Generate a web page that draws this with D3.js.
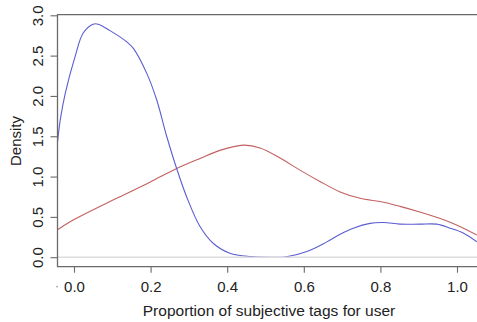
<!DOCTYPE html>
<html>
<head>
<meta charset="utf-8">
<script src="https://cdn.jsdelivr.net/npm/d3@7"></script>
<style>
  html, body { margin: 0; padding: 0; background: #fff; }
  svg { display: block; font-family: "Liberation Sans", Arial, sans-serif; }
</style>
</head>
<body>
<svg id="chart" width="477" height="322"></svg>
<script>
// ---- data ----
const blueX = [-0.043, -0.036, -0.023, 0.003, 0.024, 0.050, 0.063, 0.094, 0.138, 0.155, 0.190, 0.216, 0.242, 0.268, 0.294, 0.329, 0.364, 0.407, 0.46, 0.51, 0.555, 0.608, 0.66, 0.695, 0.729, 0.773, 0.808, 0.851, 0.903, 0.947, 0.982, 1.016, 1.052];
const blueY = [1.43, 1.70, 2.03, 2.49, 2.78, 2.89, 2.89, 2.81, 2.67, 2.59, 2.28, 1.95, 1.50, 1.10, 0.75, 0.38, 0.17, 0.05, 0.008, 0.0, 0.006, 0.07, 0.19, 0.285, 0.36, 0.42, 0.43, 0.41, 0.41, 0.41, 0.36, 0.30, 0.19];
const redX = [-0.043, -0.010, 0.094, 0.12, 0.198, 0.268, 0.329, 0.381, 0.442, 0.486, 0.538, 0.590, 0.642, 0.695, 0.747, 0.799, 0.851, 0.903, 0.956, 0.999, 1.052];
const redY = [0.34, 0.44, 0.69, 0.75, 0.93, 1.10, 1.225, 1.325, 1.39, 1.355, 1.23, 1.08, 0.94, 0.81, 0.73, 0.69, 0.63, 0.56, 0.48, 0.40, 0.275];
const xTicks = [0, 0.2, 0.4, 0.6, 0.8, 1.0];
const yTicks = [0, 0.5, 1.0, 1.5, 2.0, 2.5, 3.0];
const xTitle = "Proportion of subjective tags for user";
const yTitle = "Density";

// ---- layout ----
const svg = d3.select("#chart");
const pLeft = 57.5, pTop = 14.7, pBottom = 266.7, pRight = 480;
const x = d3.scaleLinear().domain([0, 1]).range([74, 457]);
const y = d3.scaleLinear().domain([0, 3]).range([257.2, 15.3]);
const axisCol = "#6a6a6a", textCol = "#222";

svg.append("defs").append("clipPath").attr("id", "clip")
  .append("rect").attr("x", pLeft).attr("y", pTop).attr("width", pRight - pLeft).attr("height", pBottom - pTop);

const plot = svg.append("g").attr("clip-path", "url(#clip)");

const line = d3.line().x(d => x(d[0])).y(d => y(d[1])).curve(d3.curveCatmullRom.alpha(0.5));

plot.append("path").datum(d3.zip(redX, redY))
  .attr("d", line).attr("fill", "none").attr("stroke", "#c46060").attr("stroke-width", 1.1);
plot.append("path").datum(d3.zip(blueX, blueY))
  .attr("d", line).attr("fill", "none").attr("stroke", "#5c5cd2").attr("stroke-width", 1.1);

// zero line
plot.append("line").attr("x1", pLeft).attr("x2", pRight).attr("y1", y(0)).attr("y2", y(0))
  .attr("stroke", "#dcdcdc").attr("stroke-width", 1.6);

// box (right side beyond the view)
svg.append("path")
  .attr("d", `M${pRight},${pTop}H${pLeft}V${pBottom}H${pRight}`)
  .attr("fill", "none").attr("stroke", axisCol).attr("stroke-width", 1.3);

// x axis
const xa = svg.append("g").attr("transform", `translate(0,${pBottom})`)
  .call(d3.axisBottom(x).tickValues(xTicks).tickFormat(d3.format(".1f")).tickSize(6).tickPadding(8.5));
xa.select(".domain").remove();
xa.selectAll("line").attr("stroke", axisCol).attr("stroke-width", 1.1);
xa.selectAll("text").attr("fill", textCol).style("font-size", "15px");

// y axis
const ya = svg.append("g").attr("transform", `translate(${pLeft},0)`)
  .call(d3.axisLeft(y).tickValues(yTicks).tickFormat(d3.format(".1f")).tickSize(7));
ya.select(".domain").remove();
ya.selectAll("line").attr("stroke", axisCol).attr("stroke-width", 1.1);
ya.selectAll("text")
  .attr("x", null).attr("dy", null)
  .attr("text-anchor", "middle")
  .attr("transform", "translate(-14.5,0) rotate(-90)")
  .attr("fill", textCol).style("font-size", "15px");

// stray dot left of the 0.0 label
svg.append("text").attr("x", 57).attr("y", 290).attr("text-anchor", "middle")
  .attr("fill", "#777").style("font-size", "12px").text("·");

// titles
svg.append("text").attr("x", 269).attr("y", 316).attr("text-anchor", "middle")
  .attr("fill", textCol).style("font-size", "15.5px").text(xTitle);
svg.append("text").attr("transform", "translate(21,141) rotate(-90)").attr("text-anchor", "middle")
  .attr("fill", textCol).style("font-size", "15px").text(yTitle);
</script>
</body>
</html>
